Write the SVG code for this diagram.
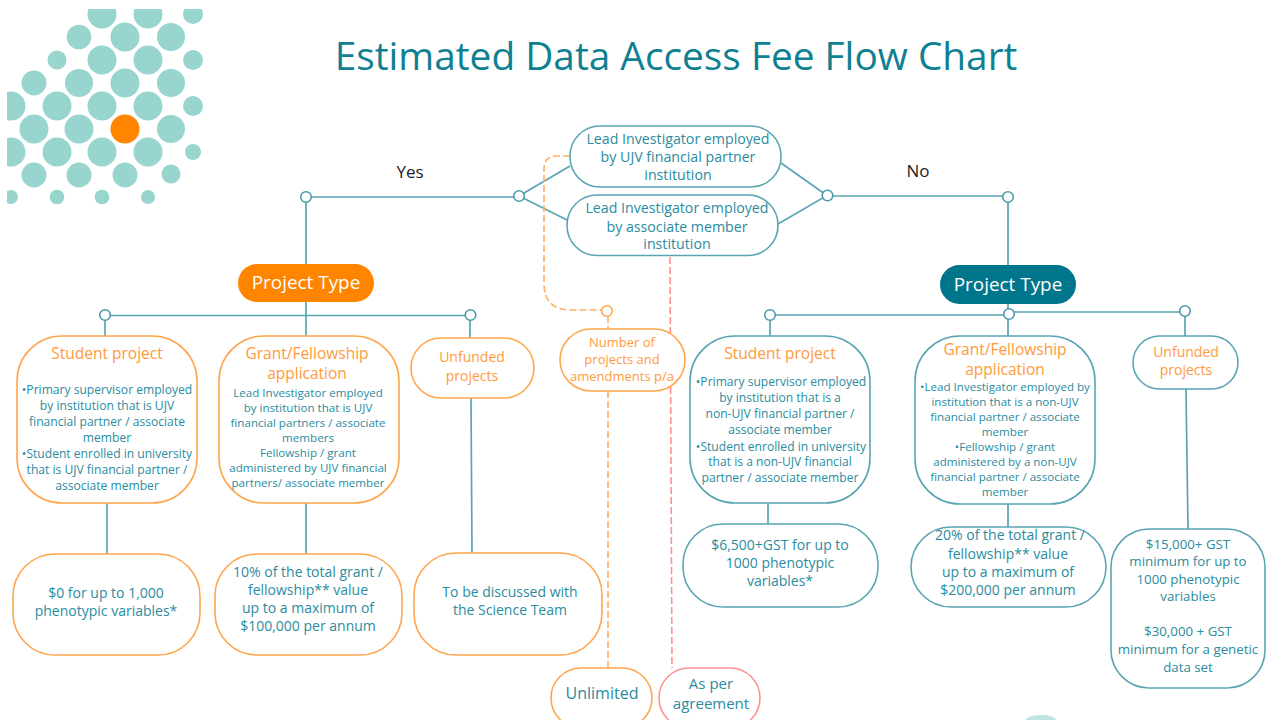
<svg xmlns="http://www.w3.org/2000/svg" width="1267" height="720" viewBox="0 0 1267 720">
<style>
text{font-family:"Open Sans","Noto Sans","DejaVu Sans",sans-serif;text-anchor:middle}
.t{fill:#2a8c9e;font-size:14px}
.n{fill:#2a8c9e;font-size:14.200px}
.m{fill:#2a8c9e;font-size:13.300px}
.s{fill:#2a8c9e;font-size:12.100px}
.g{fill:#2a8c9e;font-size:11.600px}
.h{fill:#ff9a3c;font-size:15.500px}
.o{fill:#ff9a3c;font-size:13px}
.u{fill:#ff9a3c;font-size:14px}
.bo{fill:#fff;stroke:#ffa64d;stroke-width:1.6}
.bt{fill:#fff;stroke:#5aa5b3;stroke-width:1.6}
.br{fill:#fff;stroke:#ff9090;stroke-width:1.6}
.l{fill:none;stroke:#5aa5b3;stroke-width:1.7}
.da{fill:none;stroke:#ffb066;stroke-width:1.6;stroke-dasharray:7 3}
.dr{fill:none;stroke:#ff9090;stroke-width:1.6;stroke-dasharray:7 3}
.j{fill:#fff;stroke:#4a9cac;stroke-width:1.6}
.jo{fill:#fff;stroke:#ffa64d;stroke-width:1.6}
.d{fill:#98d5cf}
</style>
<defs><clipPath id="dc"><rect x="7" y="9" width="210" height="200"/></clipPath></defs>
<g id="dots" clip-path="url(#dc)">
<circle class="d" cx="102" cy="14" r="14.5"/><circle class="d" cx="148" cy="14" r="14.5"/><circle class="d" cx="193" cy="14" r="10"/>
<circle class="d" cx="79" cy="37" r="12.3"/><circle class="d" cx="125" cy="37" r="14.5"/><circle class="d" cx="171" cy="37" r="14"/>
<circle class="d" cx="57" cy="60" r="9.5"/><circle class="d" cx="102" cy="60" r="14.5"/><circle class="d" cx="148" cy="60" r="14.5"/><circle class="d" cx="193" cy="60" r="10"/>
<circle class="d" cx="34" cy="83" r="12.5"/><circle class="d" cx="79" cy="83" r="14"/><circle class="d" cx="125" cy="83" r="14.5"/><circle class="d" cx="171" cy="83" r="14"/>
<circle class="d" cx="11" cy="106" r="14.5"/><circle class="d" cx="57" cy="106" r="14.5"/><circle class="d" cx="102" cy="106" r="14.5"/><circle class="d" cx="148" cy="106" r="14.5"/><circle class="d" cx="193" cy="106" r="10"/>
<circle class="d" cx="34" cy="129" r="14.5"/><circle class="d" cx="79" cy="129" r="14.5"/><circle cx="125" cy="129" r="14.5" fill="#ff8500"/><circle class="d" cx="171" cy="129" r="14"/>
<circle class="d" cx="11" cy="152" r="14.5"/><circle class="d" cx="57" cy="152" r="14.5"/><circle class="d" cx="102" cy="152" r="14.5"/><circle class="d" cx="148" cy="152" r="14.5"/><circle class="d" cx="193" cy="152" r="8"/>
<circle class="d" cx="34" cy="175" r="12.5"/><circle class="d" cx="79" cy="175" r="12.5"/><circle class="d" cx="125" cy="175" r="12.5"/><circle class="d" cx="171" cy="174" r="9.5"/>
<circle class="d" cx="11" cy="197" r="7"/><circle class="d" cx="57" cy="197" r="7.3"/><circle class="d" cx="102" cy="197" r="7.3"/><circle class="d" cx="148" cy="197" r="7"/>
</g>
<path d="M1026 720a15 5 0 0 1 30 0z" fill="#bfe5e1"/>
<text x="676" y="70" font-size="38.800" fill="#0f7f92">Estimated Data Access Fee Flow Chart</text>
<text x="410" y="178" font-size="17" fill="#222">Yes</text>
<text x="918" y="177" font-size="17" fill="#222">No</text>

<g id="connectors">
<path class="l" d="M306 197H519M570 166L519 196L567 220M781 163L827 195.500L778 224M827 196H1008"/>
<path class="l" d="M306 197V265M1008 197V265"/>
<path class="l" d="M105 315.500H470M306 302V336M105 315V336M470 315V338"/>
<path class="l" d="M770 315H1009M1009 312H1185M1008 304V336M770 315V336M1185 311V336"/>
<path class="l" d="M107 503V554M306 503V554M471 398L472 553M768 503V524M1008 504V527M1186 389L1188 529"/>
<path class="da" d="M570 156H557Q544 156 544 169V283Q544 310 571 310H601"/>
<path class="da" d="M608 316V329M608 391V668"/>
<path class="dr" d="M670 257L672 668"/>
<circle class="j" cx="306" cy="197" r="5.300"/><circle class="j" cx="519" cy="196" r="5.300"/><circle class="j" cx="827.500" cy="195.500" r="5.300"/><circle class="j" cx="1008" cy="197" r="5.300"/>
<circle class="j" cx="105" cy="315" r="5.300"/><circle class="j" cx="470.500" cy="315" r="5.300"/>
<circle class="j" cx="770" cy="315" r="5.300"/><circle class="j" cx="1009" cy="314" r="5.300"/><circle class="j" cx="1185" cy="311" r="5.300"/>
<circle class="jo" cx="607" cy="311" r="5.300"/>
</g>

<g id="li-partner"><rect class="bt" x="570" y="126" width="211" height="61" rx="30"/>
<text class="n" x="678" y="144">Lead Investigator employed</text><text class="n" x="678" y="162">by UJV financial partner</text><text class="n" x="678" y="180">institution</text></g>
<g id="li-associate"><rect class="bt" x="567" y="195" width="211" height="60.500" rx="30"/>
<text class="n" x="677" y="213">Lead Investigator employed</text><text class="n" x="677" y="232">by associate member</text><text class="n" x="677" y="249">institution</text></g>

<g id="type-left"><rect x="238" y="264" width="136" height="38" rx="19" fill="#ff8500"/><text x="306" y="289" font-size="18.900" fill="#fff">Project Type</text></g>
<g id="type-right"><rect x="940" y="265" width="136" height="39" rx="19.500" fill="#00768c"/><text x="1008" y="291" font-size="18.900" fill="#fff">Project Type</text></g>

<g id="student-left"><rect class="bo" x="17" y="336" width="180" height="167" rx="45"/>
<text class="h" x="107" y="359">Student project</text>
<text class="s" x="107" y="394">•Primary supervisor employed</text><text class="s" x="107" y="410">by institution that is UJV</text><text class="s" x="107" y="426">financial partner / associate</text><text class="s" x="107" y="442">member</text><text class="s" x="107" y="458">•Student enrolled in university</text><text class="s" x="107" y="474">that is UJV financial partner /</text><text class="s" x="107" y="490">associate member</text></g>

<g id="grant-left"><rect class="bo" x="219" y="336" width="180" height="167" rx="45"/>
<text class="h" x="307" y="359">Grant/Fellowship</text><text class="h" x="307" y="379">application</text>
<text class="g" x="308" y="397">Lead Investigator employed</text><text class="g" x="308" y="412">by institution that is UJV</text><text class="g" x="308" y="427">financial partners / associate</text><text class="g" x="308" y="442">members</text><text class="g" x="308" y="457">Fellowship / grant</text><text class="g" x="308" y="472">administered by UJV financial</text><text class="g" x="308" y="487">partners/ associate member</text></g>

<g id="unfunded-left"><rect class="bo" x="411" y="338" width="123" height="60" rx="30"/>
<text class="u" x="472" y="362">Unfunded</text><text class="u" x="472" y="381">projects</text></g>

<g id="number"><rect class="bo" x="560" y="329" width="125" height="62" rx="31"/>
<text class="o" x="622" y="347">Number of</text><text class="o" x="622" y="364">projects and</text><text class="o" x="622" y="381">amendments p/a</text></g>

<g id="student-right"><rect class="bt" x="690" y="336" width="180" height="167" rx="45"/>
<text class="h" x="780" y="359">Student project</text>
<text class="s" x="781" y="386">•Primary supervisor employed</text><text class="s" x="780" y="402">by institution that is a</text><text class="s" x="780" y="418">non-UJV financial partner /</text><text class="s" x="780" y="434">associate member</text><text class="s" x="781" y="451">•Student enrolled in university</text><text class="s" x="780" y="466">that is a non-UJV financial</text><text class="s" x="780" y="482">partner / associate member</text></g>

<g id="grant-right"><rect class="bt" x="915" y="336" width="180" height="168" rx="45"/>
<text class="h" x="1005" y="355">Grant/Fellowship</text><text class="h" x="1005" y="375">application</text>
<text class="g" x="1005" y="391">•Lead Investigator employed by</text><text class="g" x="1005" y="406">institution that is a non-UJV</text><text class="g" x="1005" y="421">financial partner / associate</text><text class="g" x="1005" y="436">member</text><text class="g" x="1005" y="451">•Fellowship / grant</text><text class="g" x="1005" y="466">administered by a non-UJV</text><text class="g" x="1005" y="481">financial partner / associate</text><text class="g" x="1005" y="496">member</text></g>

<g id="unfunded-right"><rect class="bt" x="1133" y="336" width="105" height="53" rx="26.500"/>
<text class="u" x="1186" y="357">Unfunded</text><text class="u" x="1186" y="375">projects</text></g>

<g id="fee-student-left"><rect class="bo" x="13" y="554" width="187" height="101" rx="42"/>
<text class="t" x="106" y="598">$0 for up to 1,000</text><text class="t" x="106" y="616">phenotypic variables*</text></g>
<g id="fee-grant-left"><rect class="bo" x="215" y="554" width="187" height="101" rx="42"/>
<text class="t" x="308" y="577">10% of the total grant /</text><text class="t" x="308" y="595">fellowship** value</text><text class="t" x="308" y="613">up to a maximum of</text><text class="t" x="308" y="631">$100,000 per annum</text></g>
<g id="fee-unfunded-left"><rect class="bo" x="414" y="553" width="188" height="102" rx="42"/>
<text class="t" x="510" y="597">To be discussed with</text><text class="t" x="510" y="615">the Science Team</text></g>
<g id="fee-student-right"><rect class="bt" x="683" y="524" width="195" height="83" rx="40"/>
<text class="t" x="780" y="550">$6,500+GST for up to</text><text class="t" x="780" y="568">1000 phenotypic</text><text class="t" x="780" y="586">variables*</text></g>
<g id="fee-grant-right"><rect class="bt" x="911" y="527" width="195" height="80" rx="40"/>
<text class="t" x="1010" y="540">20% of the total grant /</text><text class="t" x="1008" y="559">fellowship** value</text><text class="t" x="1008" y="577">up to a maximum of</text><text class="t" x="1008" y="595">$200,000 per annum</text></g>
<g id="fee-unfunded-right"><rect class="bt" x="1111" y="529" width="154" height="159" rx="38"/>
<text class="m" x="1188" y="549">$15,000+ GST</text><text class="m" x="1188" y="566">minimum for up to</text><text class="m" x="1188" y="584">1000 phenotypic</text><text class="m" x="1188" y="601">variables</text><text class="m" x="1188" y="636">$30,000 + GST</text><text class="m" x="1188" y="654">minimum for a genetic</text><text class="m" x="1188" y="672">data set</text></g>
<g id="unlimited"><rect class="bo" x="551" y="668" width="101" height="60" rx="30"/><text x="602" y="699" font-size="16" fill="#2a8c9e">Unlimited</text></g>
<g id="agreement"><rect class="br" x="659" y="668" width="101" height="60" rx="30"/><text x="711" y="689" font-size="15" fill="#2a8c9e">As per</text><text x="711" y="709" font-size="15" fill="#2a8c9e">agreement</text></g>
</svg>
